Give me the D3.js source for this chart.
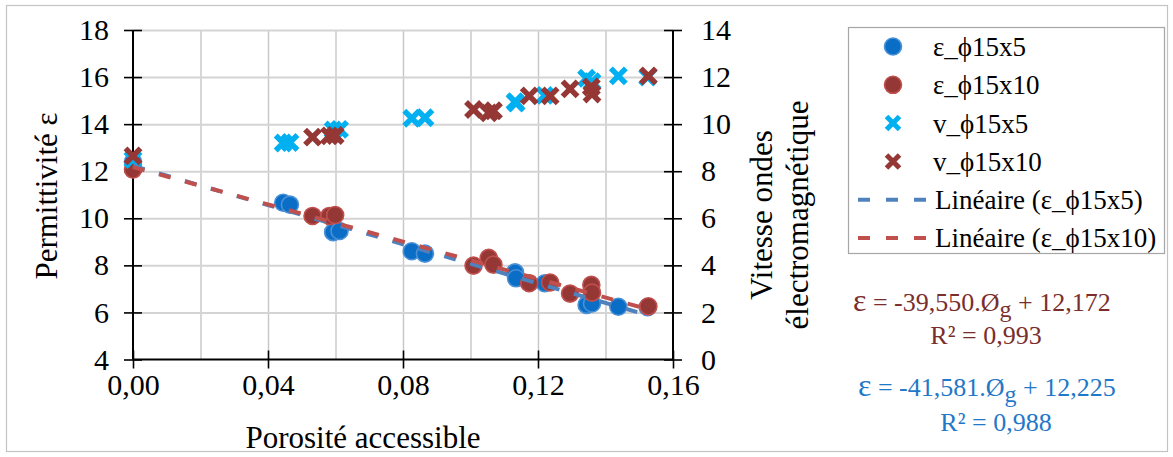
<!DOCTYPE html>
<html>
<head>
<meta charset="utf-8">
<script src="https://cdn.jsdelivr.net/npm/d3@7"></script>
<style>
  html, body { margin: 0; padding: 0; background: #fff; }
  text { font-family: "Liberation Serif", "Times New Roman", serif; }
</style>
</head>
<body>
<svg id="chart" width="1173" height="457"></svg>
<script>
// ---------------- DATA ----------------
const phi5  = [0, 0.0445, 0.0465, 0.0593, 0.0612, 0.0826, 0.0865, 0.1132, 0.1135, 0.1220, 0.1344, 0.1360, 0.1438, 0.1525];
const eps5  = [12.40, 10.66, 10.58, 9.41, 9.46, 8.60, 8.50, 7.70, 7.45, 7.24, 6.32, 6.38, 6.24, 6.22];
const v5    = [8.50, 9.20, 9.22, 9.75, 9.78, 10.25, 10.27, 10.95, 10.90, 11.22, 11.95, 11.80, 12.05, 12.00];

const phi10 = [0, 0.0532, 0.0582, 0.0599, 0.1009, 0.1054, 0.1068, 0.1174, 0.1236, 0.1295, 0.1358, 0.1360, 0.1527];
const eps10 = [12.07, 10.10, 10.10, 10.14, 7.99, 8.32, 8.03, 7.24, 7.27, 6.80, 7.17, 6.84, 6.26];
const v10   = [8.65, 9.45, 9.50, 9.52, 10.62, 10.48, 10.57, 11.20, 11.20, 11.50, 11.58, 11.28, 12.05];

const trendSlope     = [-41.581, -39.550];
const trendIntercept = [12.225, 12.172];

const xTicks      = [0, 0.04, 0.08, 0.12, 0.16];
const xGrid       = [0.02, 0.04, 0.06, 0.08, 0.10, 0.12, 0.14];
const yLeftTicks  = [4, 6, 8, 10, 12, 14, 16, 18];
const yRightTicks = [0, 2, 4, 6, 8, 10, 12, 14];

const legendLabels = ["ε_ϕ15x5", "ε_ϕ15x10", "v_ϕ15x5", "v_ϕ15x10", "Linéaire (ε_ϕ15x5)", "Linéaire (ε_ϕ15x10)"];
const eqLines = [
  {eps: "ε", pre: " = -39,550.Ø", sub: "g", post: "  + 12,172", r2: "R² = 0,993"},
  {eps: "ε", pre: " = -41,581.Ø", sub: "g", post: "  + 12,225", r2: "R² = 0,988"}
];

// ---------------- STYLE ----------------
const C = {
  blue: "#0a6ec6", blueEdge: "#4a90d6",
  red: "#953735", redEdge: "#c0504d",
  cyan: "#00b0f0", darkRed: "#953735",
  tBlue: "#4f81bd", tRed: "#c0504d",
  eqRed: "#7a2e2b", eqBlue: "#1f78c8"
};

const svg = d3.select("#chart");
svg.append("rect").attr("x", 0).attr("y", 0).attr("width", 1173).attr("height", 457).attr("fill", "#fff");
svg.append("rect").attr("x", 6.5).attr("y", 5.5).attr("width", 1161).attr("height", 446)
  .attr("fill", "none").attr("stroke", "#c4c4c4").attr("stroke-width", 1.2);

const L = 133, R = 673, T = 30, B = 359.5;
const x  = d3.scaleLinear().domain([0, 0.16]).range([L, R]);
const yL = d3.scaleLinear().domain([4, 18]).range([B, T]);
const yR = d3.scaleLinear().domain([0, 14]).range([B, T]);

// gridlines
svg.append("g").attr("transform", `translate(0,${B})`)
  .call(d3.axisBottom(x).tickValues(xGrid).tickSize(-(B - T)).tickFormat(""))
  .call(g => g.select(".domain").remove())
  .call(g => g.selectAll(".tick line").attr("stroke", "#c6c6c6").attr("stroke-width", 1.4));
svg.append("g").attr("transform", `translate(${L},0)`)
  .call(d3.axisLeft(yL).tickValues(yLeftTicks.slice(1)).tickSize(-(R - L)).tickFormat(""))
  .call(g => g.select(".domain").remove())
  .call(g => g.selectAll(".tick line").attr("stroke", "#d4d4d4").attr("stroke-width", 2));

const fontTick = 30;

// left axis
const axL = svg.append("g").attr("transform", `translate(${L},0)`)
  .call(d3.axisLeft(yL).tickValues(yLeftTicks).tickSize(8).tickFormat(d3.format("d")));
axL.select(".domain").attr("stroke", "#000").attr("stroke-width", 2).attr("d", `M0,${T}V${B}`);
axL.selectAll(".tick line").attr("x1", -9).attr("x2", 9).attr("stroke", "#000").attr("stroke-width", 1.6);
axL.selectAll(".tick text").attr("x", -24).attr("font-size", fontTick).attr("fill", "#000")
  .attr("font-family", "Liberation Serif");

// right axis
const axR = svg.append("g").attr("transform", `translate(${R},0)`)
  .call(d3.axisRight(yR).tickValues(yRightTicks).tickSize(8).tickFormat(d3.format("d")));
axR.select(".domain").attr("stroke", "#000").attr("stroke-width", 2).attr("d", `M0,${T}V${B}`);
axR.selectAll(".tick line").attr("x1", -9).attr("x2", 9).attr("stroke", "#000").attr("stroke-width", 1.6);
axR.selectAll(".tick text").attr("x", 28).attr("font-size", fontTick).attr("fill", "#000")
  .attr("font-family", "Liberation Serif");

// bottom axis
const fmtX = d => d3.format(".2f")(d).replace(".", ",");
const axB = svg.append("g").attr("transform", `translate(0,${B})`)
  .call(d3.axisBottom(x).tickValues(xTicks).tickSize(8).tickFormat(fmtX));
axB.select(".domain").attr("stroke", "#000").attr("stroke-width", 2).attr("d", `M${L},0H${R}`);
axB.selectAll(".tick line").attr("y1", -9).attr("y2", 9).attr("stroke", "#000").attr("stroke-width", 1.6);
axB.selectAll(".tick text").attr("y", 35).attr("dy", 0).attr("font-size", fontTick).attr("fill", "#000")
  .attr("font-family", "Liberation Serif");

// axis titles
svg.append("text").attr("transform", "translate(46,196) rotate(-90)").attr("text-anchor", "middle")
  .attr("dy", "0.35em").attr("font-size", 31).text("Permittivité ε");
svg.append("text").attr("transform", "translate(761,215) rotate(-90)").attr("text-anchor", "middle")
  .attr("dy", "0.35em").attr("font-size", 31).text("Vitesse ondes");
svg.append("text").attr("transform", "translate(797,215) rotate(-90)").attr("text-anchor", "middle")
  .attr("dy", "0.35em").attr("font-size", 31).text("électromagnétique");
svg.append("text").attr("x", 363).attr("y", 437).attr("text-anchor", "middle")
  .attr("dy", "0.35em").attr("font-size", 31).text("Porosité accessible");

// marker helpers
function cross(g, cx, cy, color, s = 7.5, w = 5.5) {
  g.append("path").attr("d", `M${cx - s},${cy - s}L${cx + s},${cy + s}M${cx - s},${cy + s}L${cx + s},${cy - s}`)
    .attr("stroke", color).attr("stroke-width", w).attr("fill", "none");
}
function dot(g, cx, cy, fill, edge) {
  g.append("circle").attr("cx", cx).attr("cy", cy).attr("r", 8.5)
    .attr("fill", fill).attr("stroke", edge).attr("stroke-width", 1.6);
}

const plot = svg.append("g");
phi5.forEach((p, i) => dot(plot, x(p), yL(eps5[i]), C.blue, C.blueEdge));
phi10.forEach((p, i) => dot(plot, x(p), yL(eps10[i]), C.red, C.redEdge));
phi5.forEach((p, i) => cross(plot, x(p), yR(v5[i]), C.cyan));
phi10.forEach((p, i) => cross(plot, x(p), yR(v10[i]), C.darkRed));

// trendlines
const line = d3.line().x(d => x(d[0])).y(d => yL(d[1]));
[[phi5, C.tBlue], [phi10, C.tRed]].forEach(([ph, col], k) => {
  const xs = [d3.min(ph), d3.max(ph)];
  plot.append("path")
    .attr("d", line(xs.map(v => [v, trendSlope[k] * v + trendIntercept[k]])))
    .attr("stroke", col).attr("stroke-width", 4).attr("fill", "none")
    .attr("stroke-dasharray", "12,15");
});

// legend
const lg = svg.append("g");
lg.append("rect").attr("x", 848.5).attr("y", 27.5).attr("width", 316).attr("height", 226)
  .attr("fill", "#fff").attr("stroke", "#a6a6a6").attr("stroke-width", 1.2);
const rowY = i => 46.5 + i * 38.3;
legendLabels.forEach((lab, i) => {
  const cy = rowY(i);
  if (i === 0) dot(lg, 893, cy, C.blue, C.blueEdge);
  if (i === 1) dot(lg, 893, cy, C.red, C.redEdge);
  if (i === 2) cross(lg, 893, cy, C.cyan, 6.5, 5);
  if (i === 3) cross(lg, 893, cy, C.darkRed, 6.5, 5);
  if (i >= 4) {
    lg.append("line").attr("x1", 858).attr("x2", 929).attr("y1", cy).attr("y2", cy)
      .attr("stroke", i === 4 ? C.tBlue : C.tRed).attr("stroke-width", 4)
      .attr("stroke-dasharray", "12,16");
  }
  lg.append("text").attr("x", i >= 4 ? 935 : 933).attr("y", cy).attr("dy", "0.35em")
    .attr("font-size", 27).attr("fill", "#000").text(lab);
});

// equations
const eqPos = [
  {x: 853, y: 311, rx: 986, ry: 344, col: C.eqRed},
  {x: 858, y: 396, rx: 996, ry: 431, col: C.eqBlue}
];
eqLines.forEach((e, i) => {
  const p = eqPos[i];
  const t = svg.append("text").attr("x", p.x).attr("y", p.y).attr("font-size", 26).attr("fill", p.col);
  t.append("tspan").attr("font-size", 32).text(e.eps);
  t.append("tspan").text(e.pre);
  t.append("tspan").attr("dy", 6).attr("font-size", 24).text(e.sub);
  t.append("tspan").attr("dy", -6).text(e.post);
  svg.append("text").attr("x", p.rx).attr("y", p.ry).attr("text-anchor", "middle")
    .attr("font-size", 26).attr("fill", p.col).text(e.r2);
});
</script>
</body>
</html>
